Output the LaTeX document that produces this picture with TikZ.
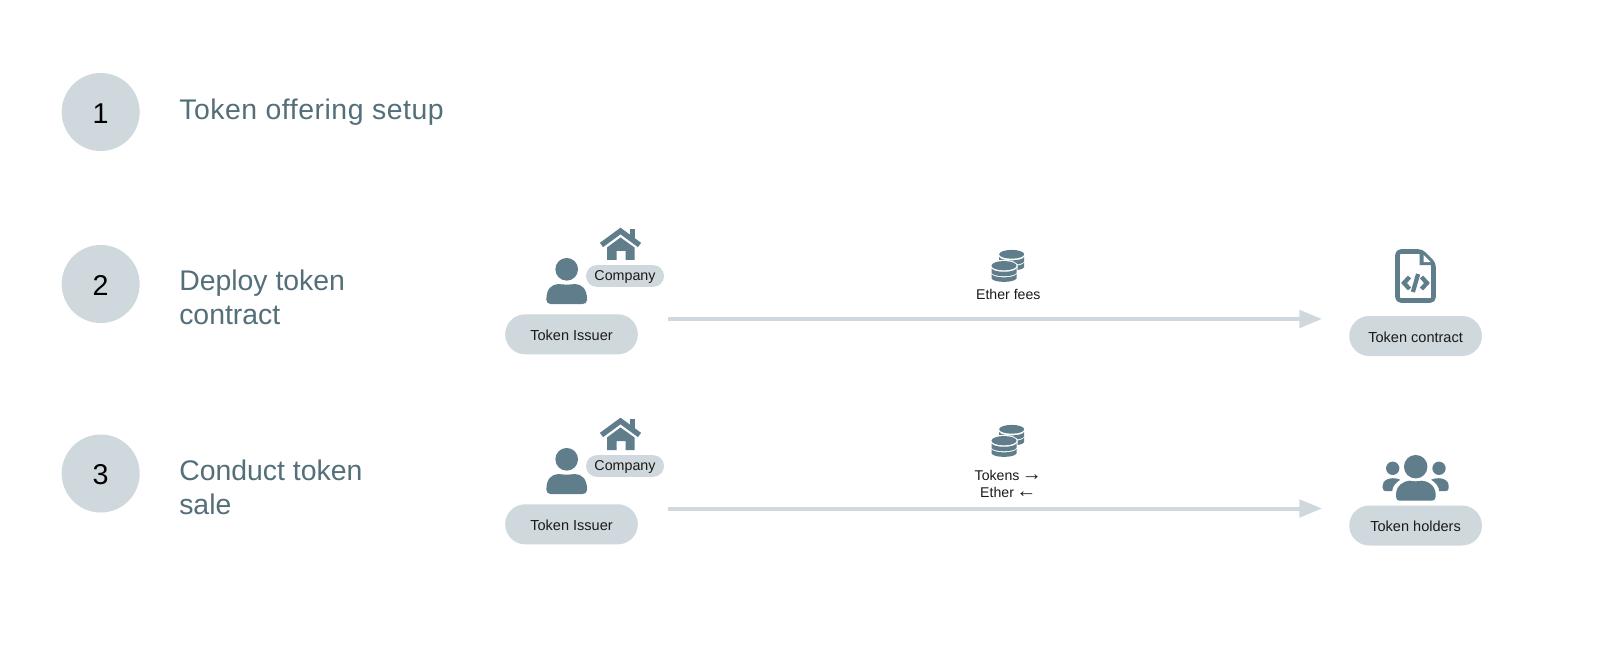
\documentclass[tikz,border=0pt]{standalone}
\usepackage{fontspec}
\setmainfont{Liberation Sans}
\usetikzlibrary{arrows.meta,shapes.misc}
\definecolor{pale}{HTML}{CFD8DC}
\definecolor{icon}{HTML}{607D8B}
\definecolor{head}{HTML}{546E7A}
\definecolor{ink}{HTML}{1A1A1A}
\newcommand{\coinband}[1]{\fill[icon] (-12.5,#1) .. controls (-10,#1+4.5) and (10,#1+4.5) .. (12.5,#1) -- (12.5,#1+4.5) .. controls (10,#1+9) and (-10,#1+9) .. (-12.5,#1+4.5) -- cycle;}
\newcommand{\bigarrow}[1]{{\fontsize{15}{12}\selectfont #1}}
\tikzset{
  x=0.75pt,y=-0.75pt,
  stepdisc/.style={circle,fill=pale,minimum size=58.5pt,inner sep=0pt,text=black,font=\fontsize{21.5}{24}\selectfont,text height=17pt,text depth=0pt},
  heading/.style={anchor=west,align=left,text=head,inner sep=0pt,font=\fontsize{21.3}{25.5}\selectfont},
  pill/.style={rounded rectangle,fill=pale,inner sep=0pt,text=ink,font=\fontsize{10.9}{12}\selectfont,minimum width=99.5pt,minimum height=30pt,text height=9.3pt,text depth=0pt},
  smallpill/.style={rounded rectangle,fill=pale,inner sep=0pt,text=ink,font=\fontsize{10.7}{12}\selectfont,minimum width=58.5pt,minimum height=16.3pt,text height=8.2pt,text depth=1pt},
  flowlabel/.style={align=center,text=ink,inner sep=0pt,font=\fontsize{10.6}{12.9}\selectfont},
  flow/.style={draw=pale,line width=3pt,-{Triangle[length=17pt,width=13pt,fill=pale]}},
  person/.pic={
    \fill[icon] (0,-14.7) circle (8.5pt);
    \fill[icon] (-20.3,15) .. controls (-20.3,5) and (-15,0) .. (-8,0) .. controls (-4,0.8) and (4,0.8) .. (8,0) .. controls (15,0) and (20.3,5) .. (20.3,15) -- (20.3,16) .. controls (20.3,18.5) and (18.5,20) .. (16,20) -- (-16,20) .. controls (-18.5,20) and (-20.3,18.5) .. (-20.3,16) -- cycle;
  },
  house/.pic={
    \fill[icon] (9,-16) rectangle (14,-4);
    \draw[icon,line width=4pt] (-19,0) -- (0,-14) -- (19,0);
    \fill[icon] (0,-7.5) -- (14,2.5) -- (14,15) -- (5,15) -- (5,6) -- (-4,6) -- (-4,15) -- (-13.5,15) -- (-13.5,2.5) -- cycle;
  },
  coins/.pic={
    \begin{scope}[shift={(7.7,-11.4)}]
      \fill[icon] (0,0) ellipse (9.4pt and 3.3pt);
      \coinband{2.7}
      \coinband{8.3}
    \end{scope}
    \fill[white,draw=white,line width=1.6pt] (-12.5,0) -- (12.5,0) -- (12.5,13) .. controls (10,20) and (-10,20) .. (-12.5,13) -- cycle;
    \fill[white] (0,0) ellipse (10.2pt and 4.4pt);
    \fill[icon] (0,0) ellipse (9.4pt and 3.5pt);
    \coinband{2.7}
    \coinband{8.3}
  },
  docicon/.pic={
    \draw[icon,line width=3.4pt,line join=round,rounded corners=2.5pt] (-18,-25) -- (6,-25) -- (18,-13) -- (18,24) -- (-18,24) -- cycle;
    \fill[icon] (4,-25) -- (4,-11.5) -- (18,-11.5) -- (18,-13) -- (6,-25) -- cycle;
    \fill[white] (8,-21.5) -- (8,-14.3) -- (15.2,-14.3) -- cycle;
    \draw[icon,line width=3.2pt] (-6,0.5) -- (-11.5,6.5) -- (-6,12.5);
    \draw[icon,line width=3.2pt] (6,0.5) -- (11.5,6.5) -- (6,12.5);
    \draw[icon,line width=3.2pt] (2.6,-2.5) -- (-2.6,15.5);
  },
  holdersicon/.pic={
    \fill[icon] (0,0) circle (8.8pt);
    \fill[icon] (-23,1.6) circle (5pt);
    \fill[icon] (23.3,1.6) circle (5pt);
    \fill[icon] (-19.7,30) -- (-19.7,28) .. controls (-19.7,19) and (-12,14) .. (-6,14) .. controls (-3,14.8) and (3,14.8) .. (6,14) .. controls (12,14) and (20,19) .. (20,28) -- (20,30) .. controls (20,33) and (18,34) .. (16,34) -- (-16,34) .. controls (-18,34) and (-19.7,33) .. (-19.7,30) -- cycle;
    \fill[icon] (-33,21) -- (-33,19) .. controls (-33,14) and (-28,11.5) .. (-23,11.5) .. controls (-20,11.5) and (-17.5,12) .. (-15.5,13) .. controls (-20,16) and (-23.5,20) .. (-23.5,24.5) -- (-30,24.5) .. controls (-32,24.5) and (-33,23) .. (-33,21) -- cycle;
    \fill[icon] (33,21) -- (33,19) .. controls (33,14) and (28,11.5) .. (23,11.5) .. controls (20,11.5) and (17.5,12) .. (15.5,13) .. controls (20,16) and (23.5,20) .. (23.5,24.5) -- (30,24.5) .. controls (32,24.5) and (33,23) .. (33,21) -- cycle;
  }
}
\begin{document}
\begin{tikzpicture}
\useasboundingbox (0,0) rectangle (1600,656);
\fill[white] (0,0) rectangle (1600,656);

% step discs and headings
\node[stepdisc] (n1) at (100.7,112) {1};
\node[stepdisc] (n2) at (100.7,284) {2};
\node[stepdisc] (n3) at (100.7,473.5) {3};
\node[heading] (h1) at (179,112) {\addfontfeature{LetterSpace=1.9}Token offering setup};
\node[heading] (h2) at (179,297.5) {Deploy token\\contract};
\node[heading] (h3) at (179,487.5) {Conduct token\\sale};

% row 2
\pic at (566.7,284) {person};
\pic at (620.5,245) {house};
\node[smallpill] (c2) at (625,276) {Company};
\node[pill] (i2) at (571.5,334.3) {Token Issuer};
\pic at (1004,265.7) {coins};
\node[flowlabel] (l2) at (1008.3,294.3) {Ether fees};
\pic at (1415.5,276.5) {docicon};
\node[pill] (t2) at (1415.6,336) {Token contract};
\coordinate (a2) at (668,319);
\coordinate (b2) at (1322,319);
\draw[flow] (a2) -- (b2);

% row 3
\pic at (566.7,474) {person};
\pic at (620.5,435) {house};
\node[smallpill] (c3) at (625,466) {Company};
\node[pill] (i3) at (571.5,524.3) {Token Issuer};
\pic at (1004,440.7) {coins};
\node[flowlabel] (l3) at (1008.3,484) {Tokens\,\bigarrow{→}\\Ether\,\bigarrow{←}};
\pic at (1415.7,466.7) {holdersicon};
\node[pill] (t3) at (1415.6,525.5) {Token holders};
\coordinate (a3) at (668,508.5);
\coordinate (b3) at (1322,508.5);
\draw[flow] (a3) -- (b3);
\end{tikzpicture}
\end{document}
